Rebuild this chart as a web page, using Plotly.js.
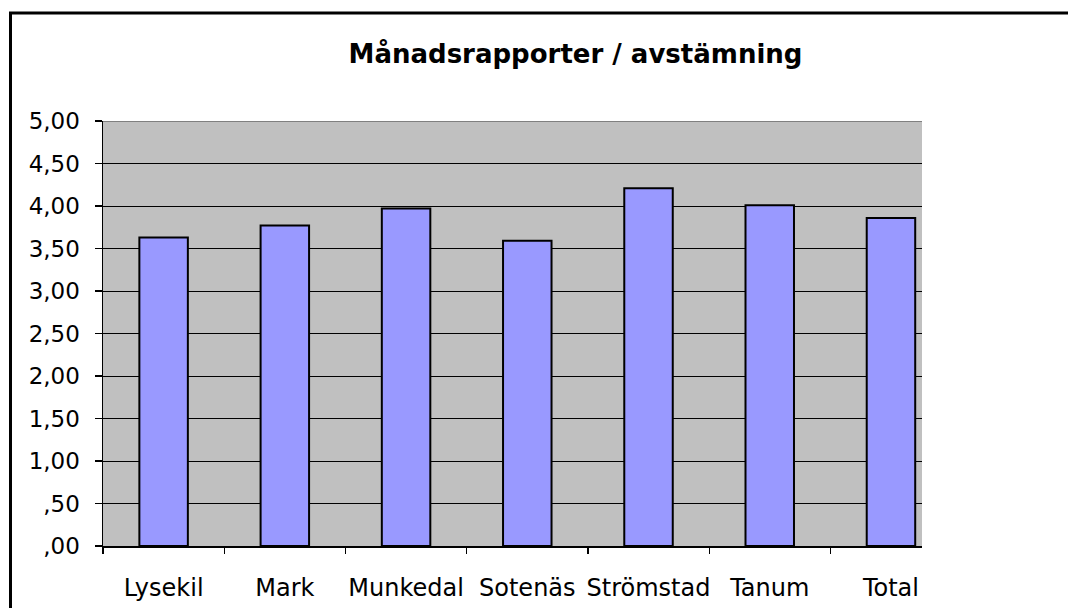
<!DOCTYPE html>
<html><head><meta charset="utf-8">
<script src="https://cdn.plot.ly/plotly-3.0.1.min.js"></script>
<style>html,body{margin:0;padding:0;background:#fff;overflow:hidden}</style>
</head><body>
<div id="chart" style="width:1068px;height:608px"></div>
<script>
const categories = ['Lysekil', 'Mark', 'Munkedal', 'Sotenäs', 'Strömstad', 'Tanum', 'Total'];
const values = [3.63, 3.77, 3.97, 3.59, 4.21, 4.01, 3.86];
const yTickVals = [0, 0.5, 1, 1.5, 2, 2.5, 3, 3.5, 4, 4.5, 5];
const yTickText = [',00', ',50', '1,00', '1,50', '2,00', '2,50', '3,00', '3,50', '4,00', '4,50', '5,00'];
const chartTitle = 'Månadsrapporter / avstämning';

const FONT = 'DejaVu Sans';

const trace = {
  type: 'bar',
  x: categories,
  y: values,
  width: 0.4,
  marker: { color: '#9999FF', line: { color: '#000000', width: 2 } },
  hoverinfo: 'none'
};

const layout = {
  width: 1068,
  height: 608,
  paper_bgcolor: '#FFFFFF',
  plot_bgcolor: '#C0C0C0',
  margin: { l: 103, r: 146, t: 121, b: 62, autoexpand: false },
  showlegend: false,
  title: {
    text: chartTitle,
    font: { family: FONT, size: 26, color: '#000000', weight: 'bold' },
    xref: 'container', yref: 'container',
    x: 575.5 / 1068, xanchor: 'center',
    y: 1 - 54 / 608, yanchor: 'middle'
  },
  xaxis: {
    type: 'category',
    range: [-0.5, 6.256],
    showgrid: false,
    zeroline: false,
    showline: true, linecolor: '#000000', linewidth: 1.5,
    ticks: 'outside', tickson: 'boundaries', ticklen: 6, tickwidth: 1.2, tickcolor: '#000000',
    tickangle: 0,
    ticklabelstandoff: 20,
    tickfont: { family: FONT, size: 24, color: '#000000' },
    fixedrange: true
  },
  yaxis: {
    range: [0, 5],
    tickmode: 'array',
    tickvals: yTickVals,
    ticktext: yTickText,
    showgrid: true, gridcolor: '#000000', gridwidth: 1,
    zeroline: false,
    showline: true, linecolor: '#000000', linewidth: 1.5,
    ticks: 'outside', ticklen: 7, tickwidth: 1.2, tickcolor: '#000000',
    ticklabelstandoff: 10,
    tickfont: { family: FONT, size: 23, color: '#000000' },
    fixedrange: true
  },
  shapes: [
    { type: 'line', xref: 'paper', yref: 'y', x0: 0, x1: 1, y0: 5, y1: 5,
      line: { color: '#808080', width: 2 }, layer: 'above' },
    { type: 'rect', xref: 'paper', yref: 'paper',
      x0: (10.5 - 103) / 819, x1: 1.3, y0: -0.3, y1: (546 - 13) / 425,
      line: { color: '#000000', width: 3 }, fillcolor: 'rgba(0,0,0,0)', layer: 'above' }
  ]
};

Plotly.newPlot('chart', [trace], layout, { displayModeBar: false, staticPlot: true });
</script>
</body></html>
